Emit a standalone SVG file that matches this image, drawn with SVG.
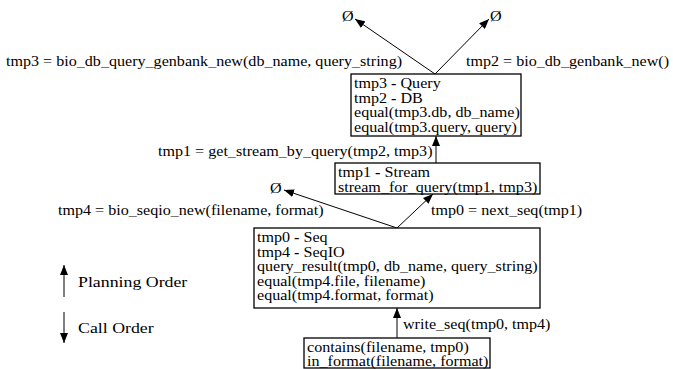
<svg xmlns="http://www.w3.org/2000/svg" width="673" height="369" viewBox="0 0 673 369">
<defs>
<style>
.t { font-family: "Liberation Serif", "Times New Roman", serif; font-size: 14px; fill: #000; }
.lg { font-size: 15.5px; }
.d { font-weight: bold; }
.box { fill: #fff; stroke: #000; stroke-width: 1.3; }
.edge { stroke: #000; stroke-width: 1; fill: none; marker-end: url(#ah); }
</style>
<marker id="ah" markerWidth="10" markerHeight="8" refX="10" refY="4" orient="auto" markerUnits="userSpaceOnUse">
<path d="M0,0 L10,4 L0,8 z" fill="#000"/>
</marker>
</defs>
<rect width="673" height="369" fill="#fff"/>
<g id="connectors">
<line class="edge" x1="435" y1="74" x2="355" y2="19"/>
<line class="edge" x1="435" y1="74" x2="489" y2="19"/>
<line class="edge" x1="436" y1="163" x2="436" y2="136"/>
<line class="edge" x1="397" y1="228" x2="284" y2="190"/>
<line class="edge" x1="397" y1="228" x2="433" y2="194"/>
<line class="edge" x1="397" y1="338" x2="397" y2="308"/>
<text class="t" transform="translate(6 66) scale(1.15 1)">tmp3 = bio_db_query_genbank_new(db_name, query_string)</text>
<text class="t" transform="translate(466 66) scale(1.15 1)">tmp2 = bio_db_genbank_new()</text>
<text class="t" transform="translate(158 156) scale(1.15 1)">tmp1 = get_stream_by_query(tmp2, tmp3)</text>
<text class="t" transform="translate(58 215) scale(1.15 1)">tmp4 = bio_seqio_new(filename, format)</text>
<text class="t" transform="translate(431 215) scale(1.15 1)">tmp0 = next_seq(tmp1)</text>
<text class="t" transform="translate(403 329) scale(1.15 1)">write_seq(tmp0, tmp4)</text>
</g>
<g id="null1"><text class="t" transform="translate(342 21) scale(1.15 1)">Ø</text></g>
<g id="null2"><text class="t" transform="translate(490 21) scale(1.15 1)">Ø</text></g>
<g id="null3"><text class="t" transform="translate(270 193) scale(1.15 1)">Ø</text></g>
<g id="node-query">
<rect class="box" x="351" y="74" width="170" height="62"/>
<text class="t" transform="translate(354 88) scale(1.15 1)">tmp3 <tspan class="d">-</tspan> Query</text>
<text class="t" transform="translate(354 102.5) scale(1.15 1)">tmp2 <tspan class="d">-</tspan> DB</text>
<text class="t" transform="translate(354 117) scale(1.15 1)">equal(tmp3.db, db_name)</text>
<text class="t" transform="translate(354 131.5) scale(1.15 1)">equal(tmp3.query, query)</text>
</g>
<g id="node-stream">
<rect class="box" x="335" y="163" width="205" height="31"/>
<text class="t" transform="translate(338 177) scale(1.15 1)">tmp1 <tspan class="d">-</tspan> Stream</text>
<text class="t" transform="translate(338 191.5) scale(1.15 1)">stream_for_query(tmp1, tmp3)</text>
</g>
<g id="node-seq">
<rect class="box" x="254" y="228" width="286" height="80"/>
<text class="t" transform="translate(257 242) scale(1.15 1)">tmp0 <tspan class="d">-</tspan> Seq</text>
<text class="t" transform="translate(257 256.5) scale(1.15 1)">tmp4 <tspan class="d">-</tspan> SeqIO</text>
<text class="t" transform="translate(257 271) scale(1.15 1)">query_result(tmp0, db_name, query_string)</text>
<text class="t" transform="translate(257 285.5) scale(1.15 1)">equal(tmp4.file, filename)</text>
<text class="t" transform="translate(257 300) scale(1.15 1)">equal(tmp4.format, format)</text>
</g>
<g id="node-contains">
<rect class="box" x="304" y="338" width="186" height="30"/>
<text class="t" transform="translate(307 352) scale(1.15 1)">contains(filename, tmp0)</text>
<text class="t" transform="translate(307 366) scale(1.15 1)">in_format(filename, format)</text>
</g>
<g id="legend">
<line class="edge" x1="64" y1="297" x2="64" y2="265"/>
<line class="edge" x1="64" y1="312" x2="64" y2="343"/>
<text class="t lg" transform="translate(78 287) scale(1.15 1)">Planning Order</text>
<text class="t lg" transform="translate(78 333) scale(1.15 1)">Call Order</text>
</g>
</svg>
